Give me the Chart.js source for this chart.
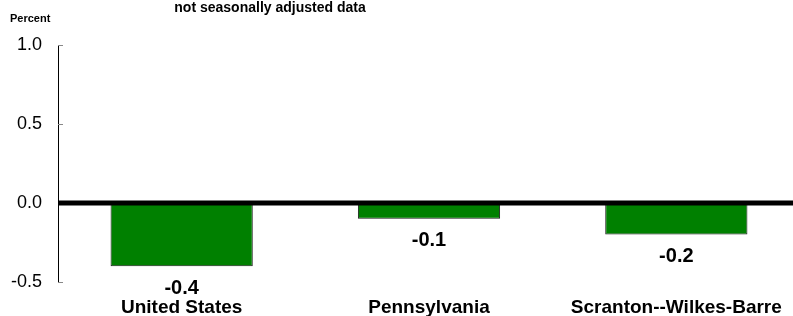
<!DOCTYPE html>
<html lang="en">
<head>
    <meta charset="UTF-8">
    <title>Over-the-year change</title>
    <script src="https://cdn.jsdelivr.net/npm/chart.js"></script>
    <style>
        html, body { margin: 0; padding: 0; background: #fff; overflow: hidden; }
        #wrap { width: 800px; height: 316px; }
    </style>
</head>
<body>
    <div id="wrap"><canvas id="barChart" width="800" height="316"></canvas></div>

    <script>
        // chart data
        var areas = ['United States', 'Pennsylvania', 'Scranton--Wilkes-Barre'];
        var changes = [-0.4, -0.1, -0.2];
        var yTicks = [-0.5, 0.0, 0.5, 1.0];

        var FONT = "'Liberation Sans', Arial, sans-serif";

        // title, unit label, inward tick marks, zero line, value labels
        var extras = {
            id: 'extras',
            afterDatasetsDraw: function (chart) {
                var ctx = chart.ctx;
                var y = chart.scales.y;
                var area = chart.chartArea;
                ctx.save();

                // small inward tick marks
                ctx.strokeStyle = '#888';
                ctx.lineWidth = 1;
                yTicks.forEach(function (t) {
                    var py = Math.round(y.getPixelForValue(t)) + 0.5;
                    ctx.beginPath();
                    ctx.moveTo(area.left, py);
                    ctx.lineTo(area.left + 5, py);
                    ctx.stroke();
                });

                // heavy zero line
                var zy = y.getPixelForValue(0);
                ctx.fillStyle = '#000';
                ctx.fillRect(area.left, zy - 2.5, chart.width - area.left, 5);

                // value labels under bars
                ctx.font = 'bold 20px ' + FONT;
                ctx.textAlign = 'center';
                ctx.textBaseline = 'middle';
                chart.getDatasetMeta(0).data.forEach(function (bar, i) {
                    ctx.fillText(changes[i].toFixed(1), bar.x, bar.y + 22);
                });

                // title and unit
                ctx.textBaseline = 'alphabetic';
                ctx.font = 'bold 14px ' + FONT;
                ctx.fillText('not seasonally adjusted data', 270, 12);
                ctx.textAlign = 'left';
                ctx.font = 'bold 11px ' + FONT;
                ctx.fillText('Percent', 10, 22);
                ctx.restore();
            }
        };

        var ctx = document.getElementById('barChart').getContext('2d');
        var myBarChart = new Chart(ctx, {
            type: 'bar',
            data: {
                labels: areas,
                datasets: [{
                    data: changes,
                    backgroundColor: '#008000',
                    borderColor: '#1a1a1a',
                    borderWidth: 1,
                    barPercentage: 0.575,
                    categoryPercentage: 1.0
                }]
            },
            options: {
                responsive: false,
                animation: false,
                devicePixelRatio: 1,
                layout: { padding: { top: 45, right: 0, bottom: 0, left: 0 } },
                plugins: {
                    legend: { display: false },
                    tooltip: { enabled: false }
                },
                scales: {
                    x: {
                        grid: { display: false },
                        border: { display: false },
                        ticks: {
                            color: '#000',
                            font: { family: FONT, size: 19, weight: 'bold' },
                            padding: 6,
                            maxRotation: 0
                        },
                        afterFit: function (scale) { scale.height = 34; }
                    },
                    y: {
                        min: -0.5,
                        max: 1.0,
                        afterBuildTicks: function (scale) {
                            scale.ticks = yTicks.map(function (v) { return { value: v }; });
                        },
                        grid: { display: false },
                        border: { display: true, color: '#000', width: 1 },
                        ticks: {
                            color: '#000',
                            font: { family: FONT, size: 18 },
                            padding: 8,
                            callback: function (v) { return Number(v).toFixed(1); }
                        },
                        afterFit: function (scale) { scale.width = 58; }
                    }
                }
            },
            plugins: [extras]
        });
    </script>
</body>
</html>
